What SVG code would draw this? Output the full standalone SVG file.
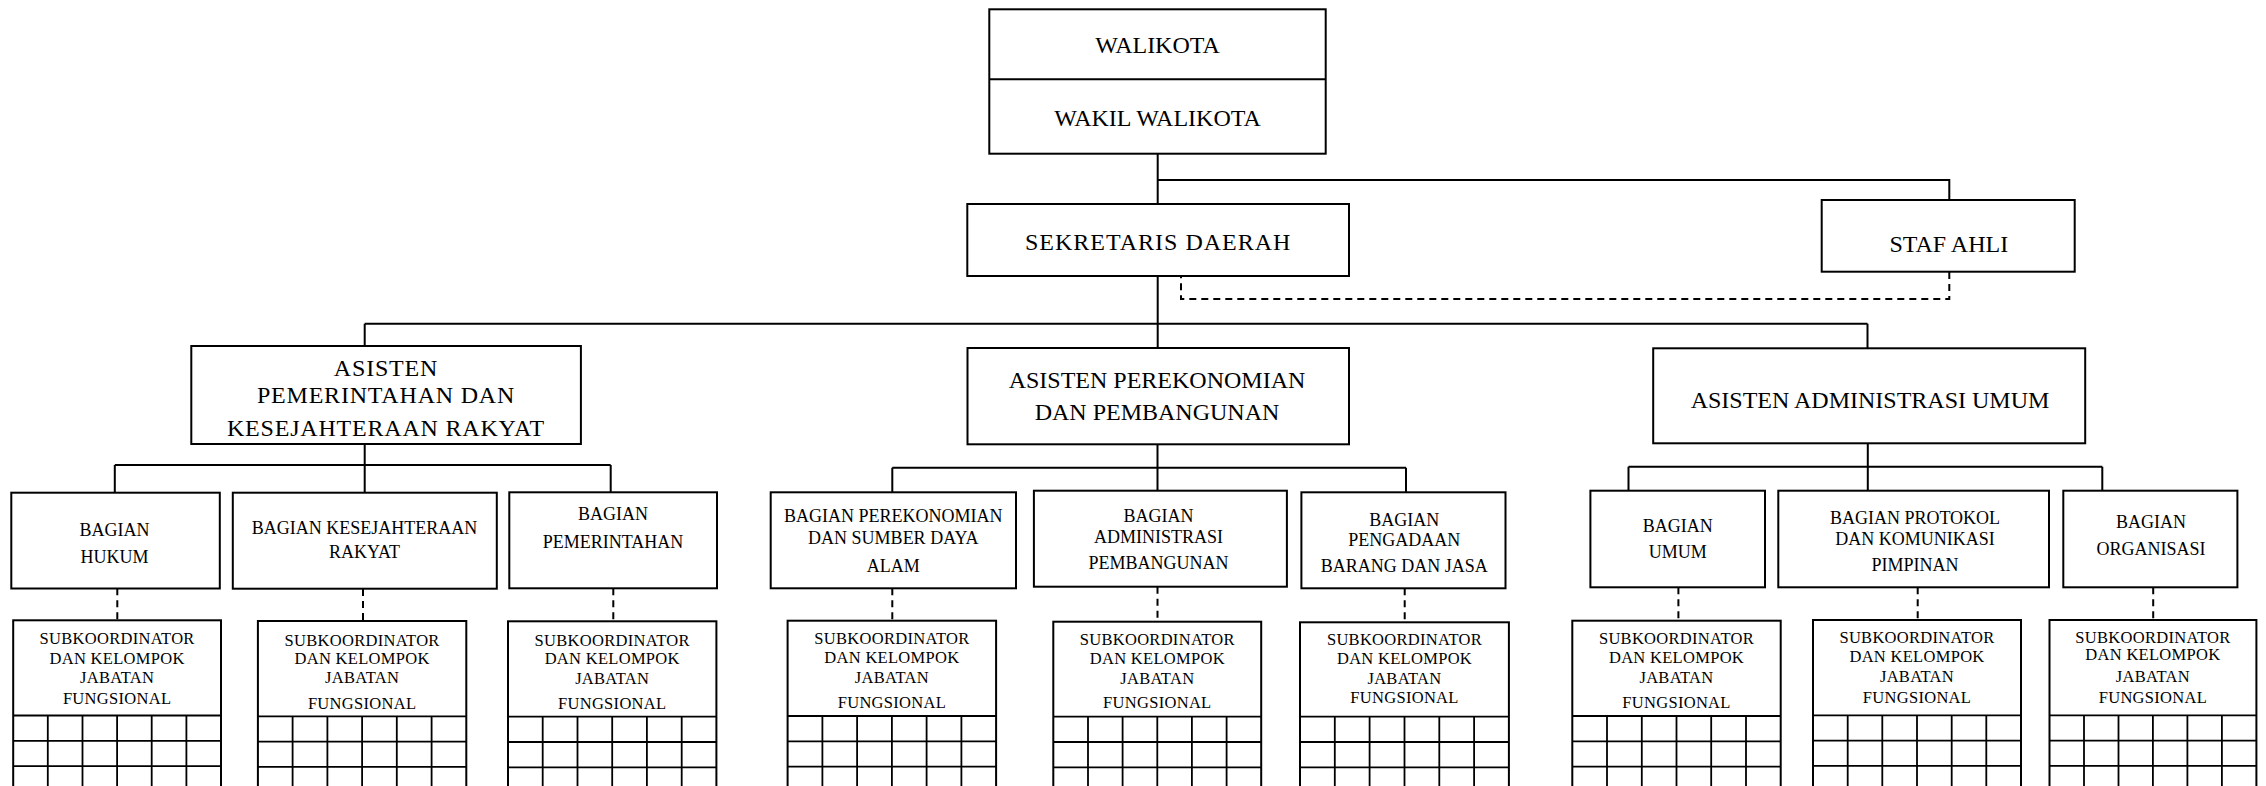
<svg xmlns="http://www.w3.org/2000/svg" width="2266" height="786" viewBox="0 0 2266 786">
<style>
.box{fill:#fff;stroke:#000;stroke-width:2}
.ln{fill:none;stroke:#000;stroke-width:2}
.ds{fill:none;stroke:#000;stroke-width:2;stroke-dasharray:7 5}
.gr{fill:none;stroke:#000;stroke-width:1.8}
text{font-family:"Liberation Serif","Times New Roman",serif;fill:#000;text-anchor:middle}
.t1{font-size:24px}
.t2{font-size:18px}
.t3{font-size:16.5px;letter-spacing:0.3px}
</style>
<rect width="2266" height="786" fill="#fff"/>
<g id="connectors">
<path class="ln" d="M1157.7 153.7V204M1157.7 180H1949.3V200"/>
<path class="ds" d="M1949.3 272V299H1181V276"/>
<path class="ln" d="M1157.7 276V348M364.7 323.7H1867.5M364.7 323.7V346M1867.5 323.7V348.3"/>
<path class="ln" d="M364.7 444.3V492.7M114.8 465H610.7M114.8 465V492.7M610.7 465V492.3"/>
<path class="ln" d="M1157.5 444.3V490.7M892.3 467.7H1406M892.3 467.7V492.3M1406 467.7V492.3"/>
<path class="ln" d="M1867.8 443.3V490.7M1628.5 466.7H2102.3M1628.5 466.7V490.7M2102.3 466.7V490.7"/>
<path class="ds" d="M117.3 588.3V620.3M363 589V621M613.3 588.3V621.3M892.3 588.3V620.7M1157.5 586.7V621.7M1404.7 588.3V622.3M1678.4 587.3V620.7M1917.7 587.3V620M2153.2 587.3V620"/>
</g>
<g id="walikota">
<rect class="box" x="989.3" y="9.3" width="336.4" height="144.4"/>
<line class="ln" x1="989.3" y1="79.3" x2="1325.7" y2="79.3"/>
<text class="t1" x="1157.5" y="53.3">WALIKOTA</text>
<text class="t1" x="1157.5" y="126">WAKIL WALIKOTA</text>
</g>
<g id="sekda">
<rect class="box" x="967.3" y="204" width="381.7" height="72"/>
<text class="t1" x="1158.2" y="250" style="letter-spacing:1px">SEKRETARIS DAERAH</text>
</g>
<g id="staf-ahli">
<rect class="box" x="1821.7" y="200" width="253" height="71.7"/>
<text class="t1" x="1948.8" y="251.7">STAF AHLI</text>
</g>
<g id="asisten-pemerintahan">
<rect class="box" x="191.3" y="346" width="389.6" height="98"/>
<text class="t1" x="386" y="375.7" style="letter-spacing:0.8px">ASISTEN</text>
<text class="t1" x="386" y="402.7" style="letter-spacing:0.8px">PEMERINTAHAN DAN</text>
<text class="t1" x="386" y="436" style="letter-spacing:0.8px">KESEJAHTERAAN RAKYAT</text>
</g>
<g id="asisten-perekonomian">
<rect class="box" x="967.5" y="348" width="381.5" height="96.3"/>
<text class="t1" x="1157" y="388.3">ASISTEN PEREKONOMIAN</text>
<text class="t1" x="1157" y="420">DAN PEMBANGUNAN</text>
</g>
<g id="asisten-administrasi">
<rect class="box" x="1653.2" y="348.3" width="432" height="95"/>
<text class="t1" x="1870" y="407.7">ASISTEN ADMINISTRASI UMUM</text>
</g>
<g id="bagian-hukum">
<rect class="box" x="11.3" y="492.7" width="208.5" height="95.8"/>
<text class="t2" x="114.5" y="536">BAGIAN</text>
<text class="t2" x="114.5" y="563.3">HUKUM</text>
</g>
<g id="bagian-kesra">
<rect class="box" x="232.8" y="492.7" width="264" height="96"/>
<text class="t2" x="364.5" y="534">BAGIAN KESEJAHTERAAN</text>
<text class="t2" x="364.5" y="557.7">RAKYAT</text>
</g>
<g id="bagian-pemerintahan">
<rect class="box" x="509.3" y="492.3" width="207.7" height="96"/>
<text class="t2" x="613" y="520">BAGIAN</text>
<text class="t2" x="613" y="548.3">PEMERINTAHAN</text>
</g>
<g id="bagian-perekonomian">
<rect class="box" x="770.7" y="492.3" width="245.3" height="96"/>
<text class="t2" x="893.3" y="521.7">BAGIAN PEREKONOMIAN</text>
<text class="t2" x="893.3" y="544">DAN SUMBER DAYA</text>
<text class="t2" x="893.3" y="572.3">ALAM</text>
</g>
<g id="bagian-adm-pembangunan">
<rect class="box" x="1033.9" y="490.7" width="253" height="96"/>
<text class="t2" x="1158.5" y="521.7">BAGIAN</text>
<text class="t2" x="1158.5" y="543.3">ADMINISTRASI</text>
<text class="t2" x="1158.5" y="569.3">PEMBANGUNAN</text>
</g>
<g id="bagian-pengadaan">
<rect class="box" x="1301.4" y="492.3" width="204.1" height="96"/>
<text class="t2" x="1404.2" y="526">BAGIAN</text>
<text class="t2" x="1404.2" y="546">PENGADAAN</text>
<text class="t2" x="1404.2" y="571.7">BARANG DAN JASA</text>
</g>
<g id="bagian-umum">
<rect class="box" x="1590.4" y="490.7" width="174.6" height="96.6"/>
<text class="t2" x="1677.7" y="531.7">BAGIAN</text>
<text class="t2" x="1677.7" y="558.3">UMUM</text>
</g>
<g id="bagian-protokol">
<rect class="box" x="1778.3" y="490.7" width="270.7" height="96.6"/>
<text class="t2" x="1915" y="524">BAGIAN PROTOKOL</text>
<text class="t2" x="1915" y="545">DAN KOMUNIKASI</text>
<text class="t2" x="1915" y="570.7">PIMPINAN</text>
</g>
<g id="bagian-organisasi">
<rect class="box" x="2063.3" y="490.7" width="174.1" height="96.6"/>
<text class="t2" x="2151" y="528.3">BAGIAN</text>
<text class="t2" x="2151" y="555">ORGANISASI</text>
</g>
<g id="sub-1">
<rect class="box" x="13.2" y="620.3" width="207.8" height="180"/>
<path class="gr" d="M13.2 715.5H221M13.2 740.8H221M13.2 766.1H221M47.8 715.5V800M82.5 715.5V800M117.1 715.5V800M151.7 715.5V800M186.4 715.5V800"/>
<text class="t3" x="117.1" y="644.3">SUBKOORDINATOR</text>
<text class="t3" x="117.1" y="664">DAN KELOMPOK</text>
<text class="t3" x="117.1" y="683.3">JABATAN</text>
<text class="t3" x="117.1" y="704">FUNGSIONAL</text>
</g>
<g id="sub-2">
<rect class="box" x="257.9" y="621" width="208.4" height="180"/>
<path class="gr" d="M257.9 716.3H466.3M257.9 741.6H466.3M257.9 766.9H466.3M292.6 716.3V800M327.4 716.3V800M362.1 716.3V800M396.8 716.3V800M431.6 716.3V800"/>
<text class="t3" x="362.1" y="645.7">SUBKOORDINATOR</text>
<text class="t3" x="362.1" y="664">DAN KELOMPOK</text>
<text class="t3" x="362.1" y="683.3">JABATAN</text>
<text class="t3" x="362.1" y="709.3">FUNGSIONAL</text>
</g>
<g id="sub-3">
<rect class="box" x="508" y="621.3" width="208.4" height="180"/>
<path class="gr" d="M508 716.7H716.4M508 742H716.4M508 767.3H716.4M542.7 716.7V800M577.5 716.7V800M612.2 716.7V800M646.9 716.7V800M681.7 716.7V800"/>
<text class="t3" x="612.2" y="645.7">SUBKOORDINATOR</text>
<text class="t3" x="612.2" y="664">DAN KELOMPOK</text>
<text class="t3" x="612.2" y="684">JABATAN</text>
<text class="t3" x="612.2" y="709.3">FUNGSIONAL</text>
</g>
<g id="sub-4">
<rect class="box" x="787.6" y="620.7" width="208.5" height="180"/>
<path class="gr" d="M787.6 716H996.1M787.6 741.3H996.1M787.6 766.6H996.1M822.4 716V800M857.1 716V800M891.9 716V800M926.6 716V800M961.4 716V800"/>
<text class="t3" x="891.9" y="644">SUBKOORDINATOR</text>
<text class="t3" x="891.9" y="663.3">DAN KELOMPOK</text>
<text class="t3" x="891.9" y="682.7">JABATAN</text>
<text class="t3" x="891.9" y="708.3">FUNGSIONAL</text>
</g>
<g id="sub-5">
<rect class="box" x="1053.3" y="621.7" width="207.9" height="180"/>
<path class="gr" d="M1053.3 716.7H1261.2M1053.3 742H1261.2M1053.3 767.3H1261.2M1088 716.7V800M1122.6 716.7V800M1157.3 716.7V800M1191.9 716.7V800M1226.6 716.7V800"/>
<text class="t3" x="1157.3" y="645">SUBKOORDINATOR</text>
<text class="t3" x="1157.3" y="664">DAN KELOMPOK</text>
<text class="t3" x="1157.3" y="684">JABATAN</text>
<text class="t3" x="1157.3" y="708.3">FUNGSIONAL</text>
</g>
<g id="sub-6">
<rect class="box" x="1300" y="622.3" width="208.9" height="180"/>
<path class="gr" d="M1300 716.7H1508.9M1300 742H1508.9M1300 767.3H1508.9M1334.8 716.7V800M1369.6 716.7V800M1404.5 716.7V800M1439.3 716.7V800M1474.1 716.7V800"/>
<text class="t3" x="1404.5" y="645">SUBKOORDINATOR</text>
<text class="t3" x="1404.5" y="664">DAN KELOMPOK</text>
<text class="t3" x="1404.5" y="684">JABATAN</text>
<text class="t3" x="1404.5" y="703.3">FUNGSIONAL</text>
</g>
<g id="sub-7">
<rect class="box" x="1572.3" y="620.7" width="208.4" height="180"/>
<path class="gr" d="M1572.3 716H1780.7M1572.3 741.3H1780.7M1572.3 766.6H1780.7M1607 716V800M1641.8 716V800M1676.5 716V800M1711.2 716V800M1746 716V800"/>
<text class="t3" x="1676.5" y="644">SUBKOORDINATOR</text>
<text class="t3" x="1676.5" y="663.3">DAN KELOMPOK</text>
<text class="t3" x="1676.5" y="682.7">JABATAN</text>
<text class="t3" x="1676.5" y="708.3">FUNGSIONAL</text>
</g>
<g id="sub-8">
<rect class="box" x="1813" y="620" width="208" height="180"/>
<path class="gr" d="M1813 715.3H2021M1813 740.6H2021M1813 765.9H2021M1847.7 715.3V800M1882.3 715.3V800M1917 715.3V800M1951.7 715.3V800M1986.3 715.3V800"/>
<text class="t3" x="1917" y="643.3">SUBKOORDINATOR</text>
<text class="t3" x="1917" y="661.7">DAN KELOMPOK</text>
<text class="t3" x="1917" y="681.7">JABATAN</text>
<text class="t3" x="1917" y="703.3">FUNGSIONAL</text>
</g>
<g id="sub-9">
<rect class="box" x="2049.5" y="620" width="206.9" height="180"/>
<path class="gr" d="M2049.5 715.3H2256.4M2049.5 740.6H2256.4M2049.5 765.9H2256.4M2084 715.3V800M2118.5 715.3V800M2152.9 715.3V800M2187.4 715.3V800M2221.9 715.3V800"/>
<text class="t3" x="2152.9" y="643.3">SUBKOORDINATOR</text>
<text class="t3" x="2152.9" y="660">DAN KELOMPOK</text>
<text class="t3" x="2152.9" y="681.7">JABATAN</text>
<text class="t3" x="2152.9" y="703.3">FUNGSIONAL</text>
</g>
</svg>
